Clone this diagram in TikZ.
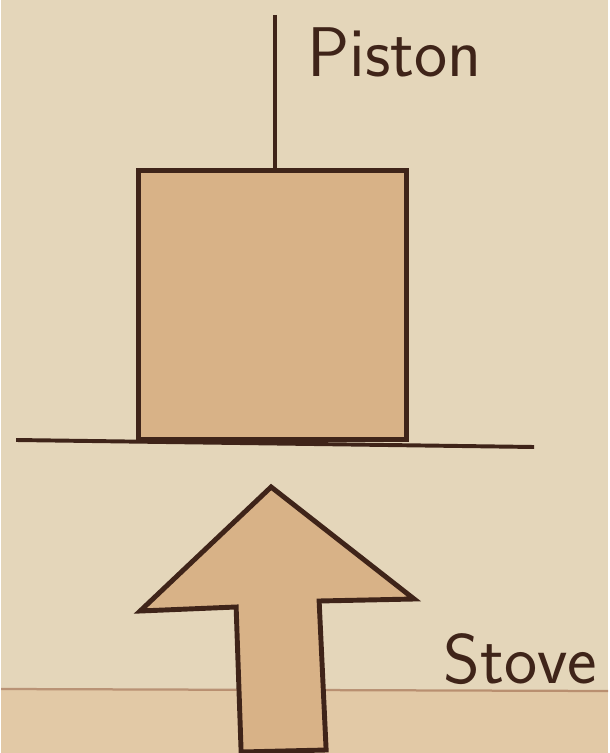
\documentclass[tikz,border=0pt]{standalone}
\definecolor{paper}{HTML}{E4D6BA}
\definecolor{paperlow}{HTML}{E2C9A6}
\definecolor{inkbrown}{HTML}{3F2419}
\definecolor{woodfill}{HTML}{D8B287}
\definecolor{stain}{HTML}{A8775A}
\begin{document}
\begin{tikzpicture}[x=0.025cm, y=-0.025cm, line join=miter,
  outline/.style={draw=inkbrown, line width=3.5pt},
  label/.style={text=inkbrown, font=\sffamily\fontsize{50}{54}\selectfont, inner sep=0pt}]
% paper background
\fill[paper] (0,0) rectangle (607,753);
\fill[paperlow] (0,690) rectangle (607,753);
\draw[stain, line width=1.6pt, opacity=0.7] (0,689) -- (607,691);
\useasboundingbox (0,0) rectangle (607,753);
% piston block
\node[outline, fill=woodfill, minimum width=268*0.025cm, minimum height=269*0.025cm, anchor=north west, inner sep=0pt] (block) at (135,168) {};
\coordinate (rodtop) at (274,15);
\draw[inkbrown, line width=2.8pt] (rodtop) -- (rodtop |- block.north);
\node[label, anchor=base west] (piston) at (306,77) {Piston};
% floor
\coordinate (floorL) at (15,440);
\coordinate (floorR) at (533,447);
\draw[inkbrown, line width=2.8pt] (floorL) -- (floorR);
% heat arrow
\draw[outline, fill=woodfill] (270,487) -- (413,599) -- (318,601) -- (325,750) -- (240,752) -- (235,607) -- (139,611) -- cycle;
\node[label, anchor=base west] (stove) at (442,683) {Stove};
\end{tikzpicture}
\end{document}
